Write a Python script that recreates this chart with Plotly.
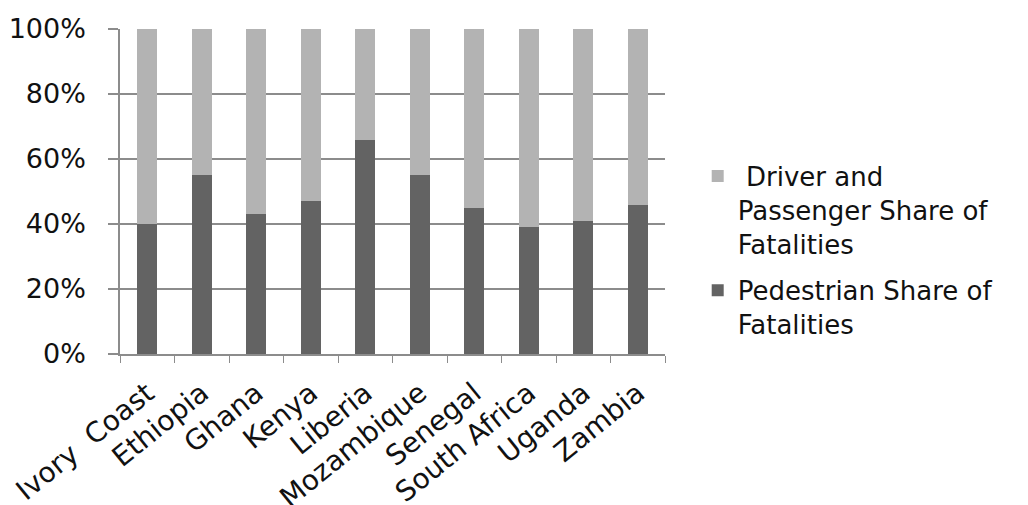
import plotly.graph_objects as go

countries = ["Ivory\u00a0 Coast", "Ethiopia", "Ghana", "Kenya", "Liberia",
             "Mozambique", "Senegal", "South Africa", "Uganda", "Zambia"]
pedestrian = [40, 55, 43, 47, 66, 55, 45, 39, 41, 46]
driver_passenger = [60, 45, 57, 53, 34, 45, 55, 61, 59, 54]
y_ticks = [0, 20, 40, 60, 80, 100]
y_tick_text = ["0%", "20%", "40%", "60%", "80%", "100%"]

FONT = "DejaVu Sans"
fig = go.Figure()
fig.add_trace(go.Bar(x=countries, y=pedestrian,
                     name="Pedestrian Share of<br>Fatalities", legendgroup="p",
                     legendrank=2,
                     marker=dict(color="#636363", line=dict(width=0))))
fig.add_trace(go.Bar(x=countries, y=driver_passenger,
                     name="\u00a0Driver and<br>Passenger Share of<br>Fatalities",
                     legendgroup="d", legendrank=1,
                     marker=dict(color="#b3b3b3", line=dict(width=0))))

fig.update_layout(
    width=1028, height=505,
    barmode="stack", bargap=0.633,
    plot_bgcolor="white", paper_bgcolor="white",
    margin=dict(l=120, r=363, t=29, b=151, autoexpand=False),
    font=dict(family=FONT, size=26, color="#111111"),
    legend=dict(x=1.06, xanchor="left", y=0.62, yanchor="top",
                traceorder="grouped", tracegroupgap=10, valign="top",
                font=dict(size=26, family=FONT),
                bgcolor="rgba(0,0,0,0)"),
    showlegend=True,
)
fig.update_xaxes(
    tickangle=-39, tickson="boundaries", ticks="outside", ticklen=7,
    tickcolor="#8c8c8c", showline=True, linecolor="#8c8c8c", linewidth=1.5,
    showgrid=False, tickfont=dict(size=28, family=FONT), ticklabelstandoff=10,
)
fig.update_yaxes(
    range=[0, 100], tickvals=y_ticks, ticktext=y_tick_text,
    ticks="outside", ticklen=10, tickcolor="#8c8c8c", tickwidth=1.5,
    showline=True, linecolor="#8c8c8c", linewidth=1.5,
    showgrid=True, gridcolor="#8c8c8c", gridwidth=1.5, zeroline=False,
    tickfont=dict(size=27, family=FONT), ticklabelstandoff=17,
)
fig.write_html("out.html")
